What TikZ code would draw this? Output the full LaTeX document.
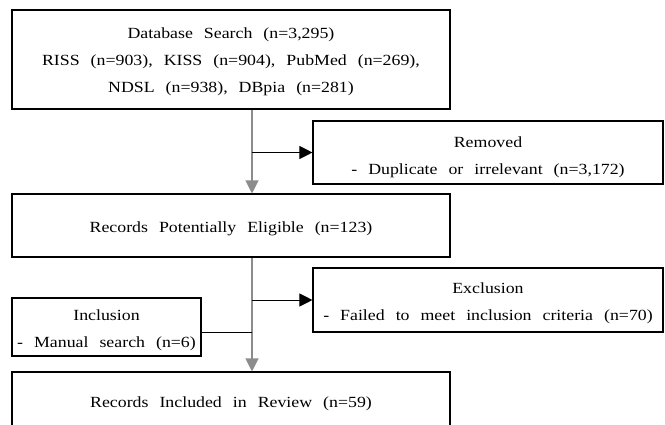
\documentclass[tikz,border=0pt]{standalone}
\usepackage{fontspec}
\setmainfont{Liberation Serif}[FakeStretch=1.15]
\usetikzlibrary{arrows.meta}
\newcommand\widegap{\spaceskip=11pt plus 2pt minus 2pt\relax}
\newcommand\boxtext[2][3pt]{\raisebox{-#1}[\height][\depth]{\begin{tabular}{@{}c@{}}#2\end{tabular}}}
\tikzset{
  box/.style={draw=black, line width=1.1pt, align=center, inner sep=0pt,
    font=\fontsize{15.5}{27}\selectfont\widegap},
  mainline/.style={draw=black!45, line width=1.2pt},
  tip/.style={-{Triangle[length=13pt,width=13pt]}},
  side/.style={draw=black, line width=1pt},
}
\begin{document}
\begin{tikzpicture}[x=1pt,y=-1pt]
\useasboundingbox (0,0) rectangle (665,424);
\clip (0,0) rectangle (665,424);
\fill[white] (0,0) rectangle (665,424);
\node[box, minimum width=438pt, minimum height=99pt] (db) at (231,59.5)
  {\boxtext[1pt]{Database Search (n=3,295)\\RISS (n=903), KISS (n=904), PubMed (n=269),\\NDSL (n=938), DBpia (n=281)}};
\node[box, minimum width=350pt, minimum height=63pt] (rem) at (488,152.5)
  {\boxtext[3pt]{Removed\\- Duplicate or irrelevant (n=3,172)}};
\node[box, minimum width=438pt, minimum height=63pt] (elig) at (231,225.5)
  {\boxtext[2pt]{Records Potentially Eligible (n=123)}};
\node[box, minimum width=350pt, minimum height=64pt] (exc) at (488,300)
  {\boxtext[2pt]{Exclusion\\- Failed to meet inclusion criteria (n=70)}};
\node[box, minimum width=189pt, minimum height=58pt] (inc) at (106.5,327)
  {\boxtext[2pt]{Inclusion\\- Manual search (n=6)}};
\node[box, minimum width=438pt, minimum height=68pt] (rev) at (231,406)
  {\boxtext[-4pt]{Records Included in Review (n=59)}};
\coordinate (mx) at (252,0);
\draw[mainline, tip] (db.south -| mx) -- (elig.north -| mx);
\draw[side, tip] (mx |- rem.west) -- (rem.west);
\draw[mainline, tip] (elig.south -| mx) -- (rev.north -| mx);
\draw[side, tip] (mx |- exc.west) -- (exc.west);
\draw[side] ([yshift=-5pt]inc.east) -- ([yshift=-5pt]inc.east -| mx);
\end{tikzpicture}
\end{document}
